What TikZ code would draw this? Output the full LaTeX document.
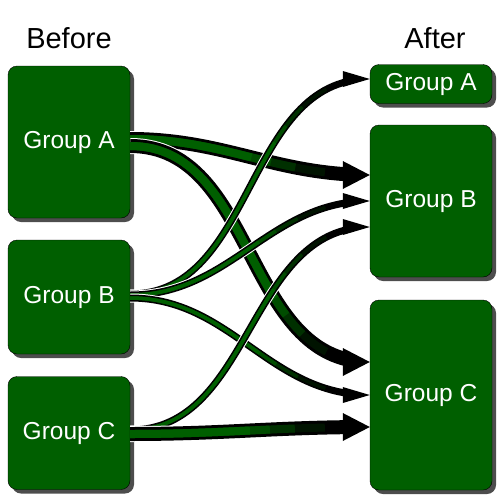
\documentclass[tikz,border=0pt]{standalone}
\usepackage{fontspec}
\setmainfont{Liberation Sans}
\usetikzlibrary{arrows.meta,shadows,decorations.markings}
\definecolor{grpgreen}{RGB}{0,95,0}
\definecolor{shadowgray}{RGB}{77,77,77}

\begin{document}
\begin{tikzpicture}[x=1pt,y=-1pt]
  \tikzstyle{grp}=[draw=black,fill=grpgreen,rounded corners=9pt,minimum width=122pt,
    inner sep=0pt,text=white,font=\fontsize{24.5}{28}\selectfont,
    drop shadow={shadow xshift=4pt,shadow yshift=-4pt,fill=shadowgray,opacity=1}]
  \tikzstyle{hd}=[font=\fontsize{29}{33}\selectfont]
  % flows are drawn from the arrow end back to the source
  \tikzstyle{thickflow}=[draw=black,line width=14pt,dash pattern=on 0pt off 20pt on 2000pt,
    preaction={draw=white,line width=16pt,dash pattern=on 0pt off 25pt on 2000pt},
    postaction={draw=grpgreen!20!black,line width=8pt,dash pattern=on 0pt off 45pt on 2000pt},
    postaction={draw=grpgreen!50!black,line width=8pt,dash pattern=on 0pt off 75pt on 2000pt},
    postaction={draw=grpgreen!80!black,line width=8pt,dash pattern=on 0pt off 100pt on 2000pt},
    postaction={draw=grpgreen,line width=8pt,dash pattern=on 0pt off 120pt on 2000pt},
    postaction={decorate,decoration={markings,mark=at position 0 with
      {\arrowreversed[black,solid]{Triangle[length=27pt,width=28pt,line width=0pt]}}}}]
  \tikzstyle{thinflow}=[draw=black,line width=7pt,dash pattern=on 0pt off 20pt on 2000pt,
    preaction={draw=white,line width=9pt,dash pattern=on 0pt off 25pt on 2000pt},
    postaction={draw=grpgreen!20!black,line width=3.5pt,dash pattern=on 0pt off 45pt on 2000pt},
    postaction={draw=grpgreen!50!black,line width=3.5pt,dash pattern=on 0pt off 75pt on 2000pt},
    postaction={draw=grpgreen!80!black,line width=3.5pt,dash pattern=on 0pt off 100pt on 2000pt},
    postaction={draw=grpgreen,line width=3.5pt,dash pattern=on 0pt off 120pt on 2000pt},
    postaction={decorate,decoration={markings,mark=at position 0 with
      {\arrowreversed[black,solid]{Triangle[length=27pt,width=16pt,line width=0pt]}}}}]

  \useasboundingbox (0,0) rectangle (504,504);

  \node[hd] (before) at (69,38) {Before};
  \node[hd] (after) at (435,38) {After};

  % before
  \node[grp,minimum height=152pt] (bA) at (69,142) {Group A};
  \node[grp,minimum height=114pt] (bB) at (69,297) {Group B};
  \node[grp,minimum height=113pt] (bC) at (69,433) {Group C};

  % after
  \node[grp,minimum height=39pt]  (aA) at (431,84)  {Group A};
  \node[grp,minimum height=152pt] (aB) at (431,201) {Group B};
  \node[grp,minimum height=190pt] (aC) at (431,395) {Group C};

  \draw[thickflow] ([yshift=26pt]aB.west) to[out=180,in=0] ([yshift=3pt]bA.east);
  \draw[thickflow] ([yshift=33pt]aC.west) to[out=180,in=0] ([yshift=-4pt]bA.east);
  \draw[thinflow] ([yshift=5pt]aA.west) to[out=180,in=0] ([yshift=3pt]bB.east);
  \draw[thinflow] (aB.west) to[out=180,in=0] ([yshift=2pt]bB.east);
  \draw[thinflow] (aC.west) to[out=180,in=0] ([yshift=-1pt]bB.east);
  \draw[thinflow] ([yshift=-26pt]aB.west) to[out=180,in=0] ([yshift=3pt]bC.east);
  \draw[thickflow] ([yshift=-32pt]aC.west) to[out=180,in=0] ([yshift=-1pt]bC.east);
\end{tikzpicture}
\end{document}
